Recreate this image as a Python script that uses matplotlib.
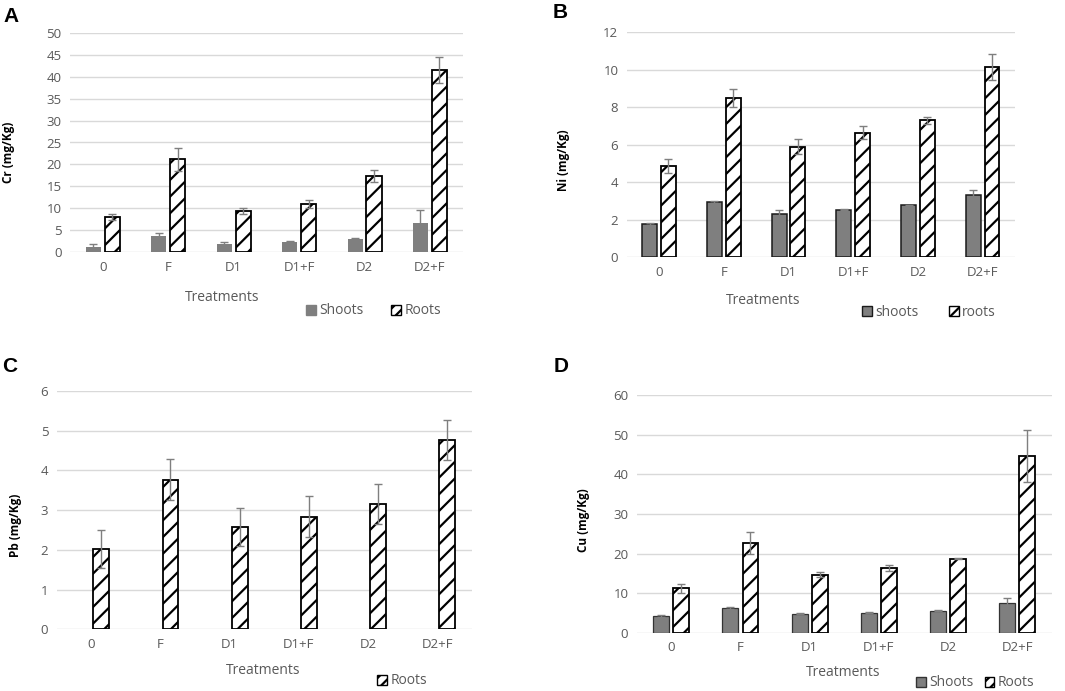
import matplotlib
matplotlib.use("Agg")
import matplotlib.pyplot as plt
from matplotlib.patches import Patch
import numpy as np

plt.rcParams['font.family'] = ['Open Sans', 'DejaVu Sans']
plt.rcParams['hatch.linewidth'] = 1.6

categories = ["0", "F", "D1", "D1+F", "D2", "D2+F"]

# Panel A: Cr
cr_shoots = [1.3, 3.6, 1.8, 2.4, 3.0, 6.7]
cr_shoots_err = [0.5, 0.75, 0.5, 0.15, 0.15, 3.0]
cr_roots = [8.0, 21.2, 9.3, 11.0, 17.4, 41.5]
cr_roots_err = [0.68, 2.6, 0.68, 1.0, 1.3, 3.0]

# Panel B: Ni
ni_shoots = [1.76, 2.96, 2.29, 2.54, 2.77, 3.30]
ni_shoots_err = [0.05, 0.06, 0.25, 0.03, 0.04, 0.27]
ni_roots = [4.86, 8.49, 5.88, 6.64, 7.30, 10.15]
ni_roots_err = [0.36, 0.47, 0.40, 0.35, 0.19, 0.68]

# Panel C: Pb (roots only)
pb_roots = [2.02, 3.77, 2.58, 2.84, 3.15, 4.76]
pb_roots_err = [0.48, 0.51, 0.48, 0.51, 0.51, 0.50]

# Panel D: Cu
cu_shoots = [4.3, 6.3, 4.9, 5.1, 5.6, 7.65]
cu_shoots_err = [0.16, 0.17, 0.17, 0.10, 0.10, 1.17]
cu_roots = [11.3, 22.6, 14.7, 16.4, 18.7, 44.6]
cu_roots_err = [1.1, 2.78, 0.6, 0.84, 0.16, 6.47]

W, H = 1065, 691
fig = plt.figure(figsize=(W / 100, H / 100), dpi=100)

GREY_TXT = "#595959"
SHOOT_C = "#7f7f7f"
ERR_C = "#7f7f7f"
FS = 9.5


def px_axes(x0, y0, x1, y1):
    return fig.add_axes([x0 / W, 1 - y1 / H, (x1 - x0) / W, (y1 - y0) / H])


def style(ax, ymax, step):
    ax.set_xlim(-0.5, len(categories) - 0.5)
    ax.set_ylim(0, ymax)
    ax.set_yticks(np.arange(0, ymax + step / 2, step))
    ax.set_xticks(range(len(categories)))
    ax.set_xticklabels(categories)
    for s in ax.spines.values():
        s.set_visible(False)
    ax.tick_params(length=0, colors=GREY_TXT, labelsize=FS, pad=6)
    ax.yaxis.grid(True, color="#d9d9d9", lw=1)
    ax.set_axisbelow(True)


x = np.arange(len(categories))
bw = 0.23
off = 0.145
ekw = dict(ecolor=ERR_C, elinewidth=1, capsize=3.2, capthick=1)


def draw(ax, shoots, s_err, roots, r_err, s_edge=None, s_lw=0):
    if shoots is not None:
        ax.bar(x - off, shoots, bw, color=SHOOT_C,
               edgecolor=s_edge if s_edge else SHOOT_C, linewidth=s_lw,
               yerr=s_err, error_kw=ekw, zorder=2)
    ax.bar(x + off, roots, bw, color="white", edgecolor="black",
           hatch="//", linewidth=1.3, yerr=r_err, error_kw=ekw, zorder=2)


def legend(ax, labels, x0, y0, colsp, s_edge=None):
    handles = []
    if len(labels) == 2:
        handles.append(Patch(facecolor=SHOOT_C,
                             edgecolor=s_edge if s_edge else SHOOT_C, lw=1))
    handles.append(Patch(facecolor="white", edgecolor="black", hatch="///", lw=1))
    leg = ax.legend(handles, labels, ncol=len(labels), loc="center left",
                    bbox_to_anchor=(x0 / W, 1 - y0 / H),
                    bbox_transform=fig.transFigure, frameon=False,
                    handlelength=0.7, handleheight=0.7, handletextpad=0.25,
                    columnspacing=colsp, fontsize=10, borderpad=0,
                    borderaxespad=0)
    for t in leg.get_texts():
        t.set_color(GREY_TXT)


# ---- A ----
axA = px_axes(70, 32.7, 462.7, 252.3)
draw(axA, cr_shoots, cr_shoots_err, cr_roots, cr_roots_err)
style(axA, 50, 5)
legend(axA, ["Shoots", "Roots"], 306, 311, 2.0)
fig.text(222 / W, 1 - 297 / H, "Treatments", ha="center", va="center",
         color=GREY_TXT, fontsize=10)
fig.text(9 / W, 1 - 152 / H, "Cr (mg/Kg)", rotation=90, ha="center",
         va="center", fontweight="bold", fontsize=8.5)
fig.text(3 / W, 1 - 17 / H, "A", fontsize=15, fontweight="bold",
         family="Liberation Sans", va="center")

# ---- B ----
axB = px_axes(626.7, 32, 1015, 257.3)
draw(axB, ni_shoots, ni_shoots_err, ni_roots, ni_roots_err,
     s_edge="#1a1a1a", s_lw=1.1)
style(axB, 12, 2)
legend(axB, ["shoots", "roots"], 862, 312, 2.2, s_edge="#1a1a1a")
fig.text(763 / W, 1 - 300 / H, "Treatments", ha="center", va="center",
         color=GREY_TXT, fontsize=10)
fig.text(564 / W, 1 - 160 / H, "Ni (mg/Kg)", rotation=90, ha="center",
         va="center", fontweight="bold", fontsize=8.5)
fig.text(553 / W, 1 - 12 / H, "B", fontsize=15, fontweight="bold",
         family="Liberation Sans", va="center")

# ---- C ----
axC = px_axes(56.7, 391, 471.7, 629.3)
draw(axC, None, None, pb_roots, pb_roots_err)
style(axC, 6, 1)
legend(axC, ["Roots"], 377, 681, 1.0)
fig.text(263 / W, 1 - 670 / H, "Treatments", ha="center", va="center",
         color=GREY_TXT, fontsize=10)
fig.text(16 / W, 1 - 525 / H, "Pb (mg/Kg)", rotation=90, ha="center",
         va="center", fontweight="bold", fontsize=8.5)
fig.text(2 / W, 1 - 366 / H, "C", fontsize=15, fontweight="bold",
         family="Liberation Sans", va="center")

# ---- D ----
axD = px_axes(636.7, 395, 1051.7, 633)
draw(axD, cu_shoots, cu_shoots_err, cu_roots, cu_roots_err,
     s_edge="#333333", s_lw=0.9)
style(axD, 60, 10)
legend(axD, ["Shoots", "Roots"], 916, 683, 0.8, s_edge="#333333")
fig.text(843 / W, 1 - 672 / H, "Treatments", ha="center", va="center",
         color=GREY_TXT, fontsize=10)
fig.text(584 / W, 1 - 520 / H, "Cu (mg/Kg)", rotation=90, ha="center",
         va="center", fontweight="bold", fontsize=8.5)
fig.text(554 / W, 1 - 366 / H, "D", fontsize=15, fontweight="bold",
         family="Liberation Sans", va="center")

fig.savefig("out.png", dpi=100)
